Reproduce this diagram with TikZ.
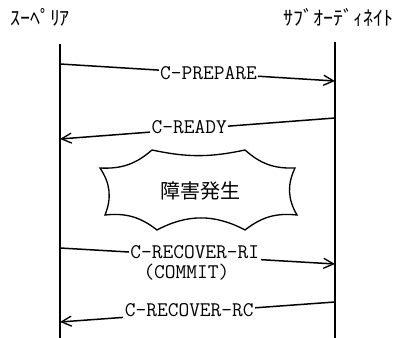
\documentclass[tikz,border=0pt]{standalone}
\usepackage{fontspec}
\newfontfamily\jpfont{Noto Sans CJK JP}
\usetikzlibrary{arrows.meta}
\usetikzlibrary{positioning}

\tikzset{
  lifeline/.style={line width=1.1pt},
  msg/.style={line width=0.9pt,-{Straight Barb[length=6pt,width=6pt,line width=0.8pt]}},
  msglabel/.style={fill=white,inner sep=1pt,font=\fontsize{12.5}{13}\selectfont\ttfamily},
  party/.style={font=\fontsize{12}{13}\selectfont\jpfont},
}

\begin{document}
\begin{tikzpicture}[x=0.6pt,y=-0.6pt]
\useasboundingbox (0,0) rectangle (403,338);

% parties
\node[party] (sup) at (40,17) {ｽｰﾍﾟﾘｱ};
\node[party] (sub) at (338,17) {ｻﾌﾞｵｰﾃﾞｨﾈｲﾄ};
\coordinate (Ltop) at (60,44);
\coordinate (Lbot) at (60,338);
\coordinate (Rtop) at (335,42);
\coordinate (Rbot) at (335,338);
\draw[lifeline] (Ltop) -- (Lbot);
\draw[lifeline] (Rtop) -- (Rbot);

% message end points
\coordinate (L1) at (60,64);  \coordinate (R1) at (335,81);
\coordinate (R2) at (335,118); \coordinate (L2) at (60,139);
\coordinate (L3) at (60,248); \coordinate (R3) at (335,264);
\coordinate (R4) at (335,302); \coordinate (L4) at (60,322);

\draw[msg] (L1) -- (R1) node[msglabel,pos=0.54] (prep) {C-PREPARE};
\draw[msg] (R2) -- (L2) node[msglabel,pos=0.53,yshift=1.5pt] (ready) {C-READY};
\draw[msg] (L3) -- (R3) node[msglabel,pos=0.49,yshift=2pt] (ri) {C-RECOVER-RI};
\node[msglabel,below=0.5pt of ri,xshift=-5pt] (commit) {(COMMIT)};
\draw[msg] (R4) -- (L4) node[msglabel,pos=0.53,yshift=1.5pt] (rc) {C-RECOVER-RC};

% failure cloud
\draw[line width=0.8pt] (152,150) to[bend right=12] (245,150)
  to[bend right=22] (295,168) to[bend right=28] (297,215)
  to[bend right=22] (245,230) to[bend right=28] (157,230)
  to[bend right=22] (105,215) to[bend right=28] (100,168)
  to[bend right=22] cycle;
\node[font=\fontsize{12}{13}\selectfont\jpfont] (fail) at (200,191) {障害発生};

\end{tikzpicture}
\end{document}
